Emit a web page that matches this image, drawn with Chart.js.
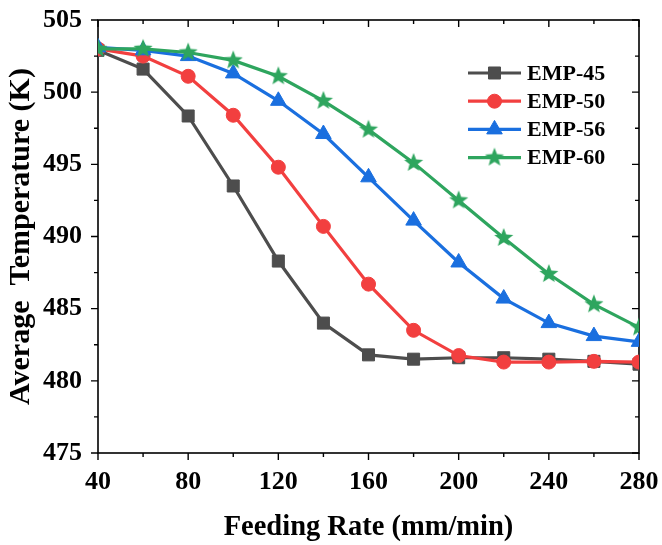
<!DOCTYPE html>
<html>
<head>
<meta charset="utf-8">
<script src="https://cdn.jsdelivr.net/npm/chart.js@4.4.0/dist/chart.umd.min.js"></script>
<style>
  html, body { margin: 0; padding: 0; background: #fff; }
  #wrap { width: 662px; height: 545px; }
</style>
</head>
<body>
<div id="wrap"><canvas id="chart" width="662" height="545"></canvas></div>
<script>
const feedRate = [40, 60, 80, 100, 120, 140, 160, 180, 200, 220, 240, 260, 280];
const emp45 = [502.9, 501.6, 498.35, 493.5, 488.3, 484.0, 481.8, 481.5, 481.6, 481.6, 481.5, 481.35, 481.15];
const emp50 = [503.0, 502.5, 501.1, 498.4, 494.8, 490.7, 486.7, 483.5, 481.75, 481.3, 481.3, 481.35, 481.3];
const emp56 = [503.1, 502.9, 502.5, 501.3, 499.4, 497.1, 494.1, 491.1, 488.2, 485.7, 484.0, 483.1, 482.7];
const emp60 = [503.0, 503.0, 502.75, 502.2, 501.1, 499.4, 497.4, 495.1, 492.5, 489.9, 487.4, 485.3, 483.7];
const seriesNames = ["EMP-45", "EMP-50", "EMP-56", "EMP-60"];
const xTicks = [40, 80, 120, 160, 200, 240, 280];
const yTicks = [475, 480, 485, 490, 495, 500, 505];

const FONT = "'Liberation Serif', 'Times New Roman', serif";
const colors = ["#4d4d4d", "#f23f3f", "#1a6fdf", "#2ea55e"];

// filled five-point star for EMP-60 (Chart.js 'star' is only a line asterisk)
function makeStar(color, outer, inner) {
  const c = document.createElement("canvas");
  const s = Math.ceil(outer * 2 + 2);
  c.width = s; c.height = s;
  const g = c.getContext("2d");
  g.fillStyle = color;
  g.beginPath();
  for (let i = 0; i < 10; i++) {
    const r = i % 2 === 0 ? outer : inner;
    const a = -Math.PI / 2 + i * Math.PI / 5;
    const px = s / 2 + r * Math.cos(a), py = s / 2 + r * Math.sin(a);
    if (i === 0) g.moveTo(px, py); else g.lineTo(px, py);
  }
  g.closePath();
  g.fill();
  return c;
}
const star = makeStar(colors[3], 10, 4.3);

const pointStyles = ["rect", "circle", "triangle", star];
const pointRadius = [8.5, 7, 9, 10];
const seriesData = [emp45, emp50, emp56, emp60];

const datasets = seriesNames.map((name, i) => ({
  label: name,
  data: feedRate.map((x, j) => ({x: x, y: seriesData[i][j]})),
  borderColor: colors[i],
  backgroundColor: colors[i],
  borderWidth: 3.2,
  pointStyle: pointStyles[i],
  pointRadius: pointRadius[i],
  pointHoverRadius: pointRadius[i],
  pointBorderWidth: 1,
  tension: 0,
  order: 3 - i
}));

// frame with mirrored ticks, plus the legend
const framePlugin = {
  id: "frame",
  beforeDatasetsDraw(chart) {
    const {ctx, chartArea: a, scales} = chart;
    ctx.save();
    ctx.strokeStyle = "#000";
    ctx.lineWidth = 1.6;
    ctx.strokeRect(a.left, a.top, a.right - a.left, a.bottom - a.top);
    ctx.lineWidth = 1.4;
    ctx.beginPath();
    for (let v = 40; v <= 280; v += 20) {
      const px = scales.x.getPixelForValue(v);
      const len = v % 40 === 0 ? 7 : 4;
      ctx.moveTo(px, a.bottom); ctx.lineTo(px, a.bottom + len);
      ctx.moveTo(px, a.top); ctx.lineTo(px, a.top + len);
    }
    for (let v = 475; v <= 505; v += 2.5) {
      const py = scales.y.getPixelForValue(v);
      const len = v % 5 === 0 ? 7 : 4;
      ctx.moveTo(a.left, py); ctx.lineTo(a.left - len, py);
      ctx.moveTo(a.right, py); ctx.lineTo(a.right - len, py);
    }
    ctx.stroke();
    ctx.restore();
  },
  afterDraw(chart) {
    const {ctx, chartArea: a} = chart;
    const x0 = a.right - 171, x1 = a.right - 118, mx = (x0 + x1) / 2;
    ctx.save();
    chart.data.datasets.forEach((ds, i) => {
      const y = a.top + 53 + i * 28.2;
      ctx.strokeStyle = ds.borderColor;
      ctx.fillStyle = ds.backgroundColor;
      ctx.lineWidth = 3.2;
      ctx.beginPath();
      ctx.moveTo(x0, y); ctx.lineTo(x1, y);
      ctx.stroke();
      ctx.lineWidth = 1;
      Chart.helpers.drawPoint(ctx, {pointStyle: ds.pointStyle, radius: ds.pointRadius, rotation: 0, borderWidth: 1}, mx, y);
      ctx.fillStyle = "#000";
      ctx.font = "bold 22px " + FONT;
      ctx.textBaseline = "middle";
      ctx.textAlign = "left";
      ctx.fillText(ds.label, x1 + 6, y + 1);
    });
    ctx.restore();
  }
};

new Chart(document.getElementById("chart"), {
  type: "line",
  data: {datasets: datasets},
  options: {
    responsive: false,
    animation: false,
    layout: {padding: {left: 0, right: 23, top: 20, bottom: 0}},
    plugins: {legend: {display: false}, tooltip: {enabled: false}},
    scales: {
      x: {
        type: "linear",
        min: 40,
        max: 280,
        afterBuildTicks: scale => { scale.ticks = xTicks.map(v => ({value: v})); },
        afterFit: scale => { scale.height = 92; scale.paddingLeft = 0; scale.paddingRight = 0; },
        grid: {display: false, drawTicks: false},
        border: {display: false},
        ticks: {color: "#000", padding: 14, font: {family: FONT, size: 26, weight: "bold"}},
        title: {display: true, text: "Feeding Rate (mm/min)", color: "#000", padding: {top: 0, bottom: 0}, font: {family: FONT, size: 28.5, weight: "bold"}}
      },
      y: {
        min: 475,
        max: 505,
        afterBuildTicks: scale => { scale.ticks = yTicks.map(v => ({value: v})); },
        afterFit: scale => { scale.width = 98; scale.paddingTop = 0; scale.paddingBottom = 0; },
        grid: {display: false, drawTicks: false},
        border: {display: false},
        ticks: {color: "#000", padding: 16, font: {family: FONT, size: 26, weight: "bold"}},
        title: {display: true, text: "Average  Temperature (K)", color: "#000", padding: {top: 3, bottom: 0}, font: {family: FONT, size: 30, weight: "bold"}}
      }
    }
  },
  plugins: [framePlugin]
});
</script>
</body>
</html>
